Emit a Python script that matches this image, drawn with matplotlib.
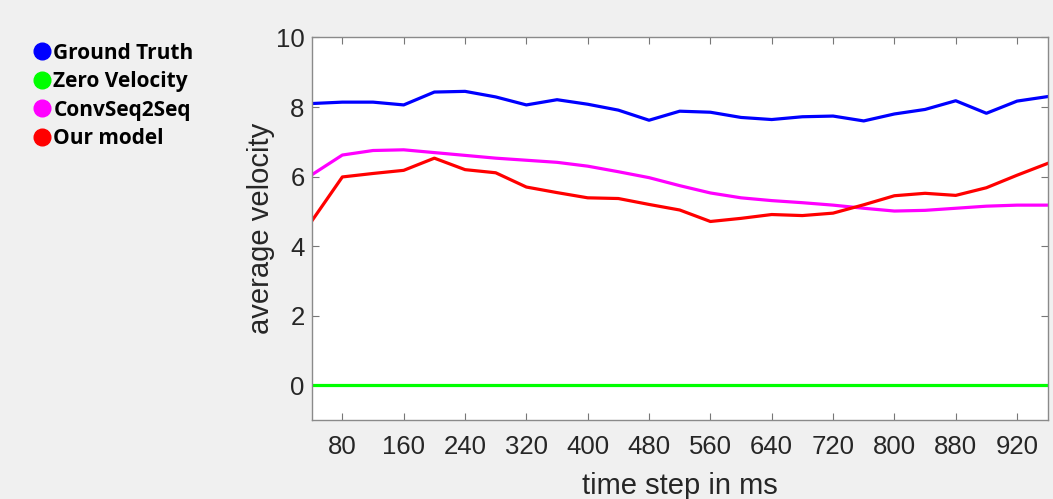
import numpy as np
import matplotlib.pyplot as plt
from matplotlib.lines import Line2D

# time steps (ms)
t = np.arange(40, 1001, 40)

ground_truth = [8.10, 8.14, 8.14, 8.06, 8.43, 8.45, 8.29, 8.06, 8.21, 8.08, 7.91, 7.62, 7.88,
                7.85, 7.70, 7.64, 7.72, 7.74, 7.60, 7.80, 7.93, 8.18, 7.82, 8.17, 8.30]
zero_velocity = [0.0] * 25
convseq2seq = [6.05, 6.62, 6.75, 6.77, 6.69, 6.61, 6.53, 6.47, 6.41, 6.30, 6.14, 5.97, 5.74,
               5.53, 5.39, 5.31, 5.25, 5.18, 5.09, 5.01, 5.03, 5.09, 5.15, 5.18, 5.18]
our_model = [4.72, 5.99, 6.09, 6.18, 6.53, 6.20, 6.11, 5.70, 5.54, 5.39, 5.37, 5.20, 5.04,
             4.71, 4.80, 4.91, 4.88, 4.95, 5.19, 5.45, 5.52, 5.46, 5.68, 6.04, 6.38]

xtick_pos = np.arange(80, 961, 80)
xtick_labels = ['80', '160', '240', '320', '400', '480', '560', '640', '720', '800', '880', '920']
ytick_pos = [0, 2, 4, 6, 8, 10]

plt.rcParams['font.family'] = ['Liberation Sans', 'DejaVu Sans']

fig = plt.figure(figsize=(10.53, 4.99), dpi=100, facecolor='#f0f0f0')
ax = fig.add_axes([0.296, 0.158, 0.699, 0.767])

lw = 2.3
ax.plot(t, ground_truth, color='#0000ff', lw=lw)
ax.plot(t, zero_velocity, color='#00ff00', lw=lw)
ax.plot(t, convseq2seq, color='#ff00ff', lw=lw)
ax.plot(t, our_model, color='#ff0000', lw=lw)

ax.set_xlim(40, 1000)
ax.set_ylim(-1, 10)
ax.set_xticks(xtick_pos)
ax.set_xticklabels(xtick_labels)
ax.set_yticks(ytick_pos)
ax.tick_params(direction='in', top=True, right=True, length=5, width=0.8,
               color='#777777', labelsize=18.5, labelcolor='#262626')
ax.tick_params(axis='x', pad=11)
ax.tick_params(axis='y', pad=5)
for s in ax.spines.values():
    s.set_color('#8a8a8a')
    s.set_linewidth(1.0)
ax.set_xlabel('time step in ms', fontsize=21, color='#262626', labelpad=9)
ax.set_ylabel('average velocity', fontsize=21, color='#262626', labelpad=1)

# legend at the left
names = ['Ground Truth', 'Zero Velocity', 'ConvSeq2Seq', 'Our model']
cols = ['#0000ff', '#00ff00', '#ff00ff', '#ff0000']
handles = [Line2D([], [], ls='none', marker='o', ms=12, color=c) for c in cols]
fig.legend(handles, names, loc='upper left', bbox_to_anchor=(0.012, 0.952),
           frameon=False, handletextpad=0.05, handlelength=1.0, labelspacing=0.36,
           prop={'family': 'Open Sans', 'weight': 'bold', 'size': 15})

fig.savefig('out.png', dpi=100, facecolor=fig.get_facecolor())
